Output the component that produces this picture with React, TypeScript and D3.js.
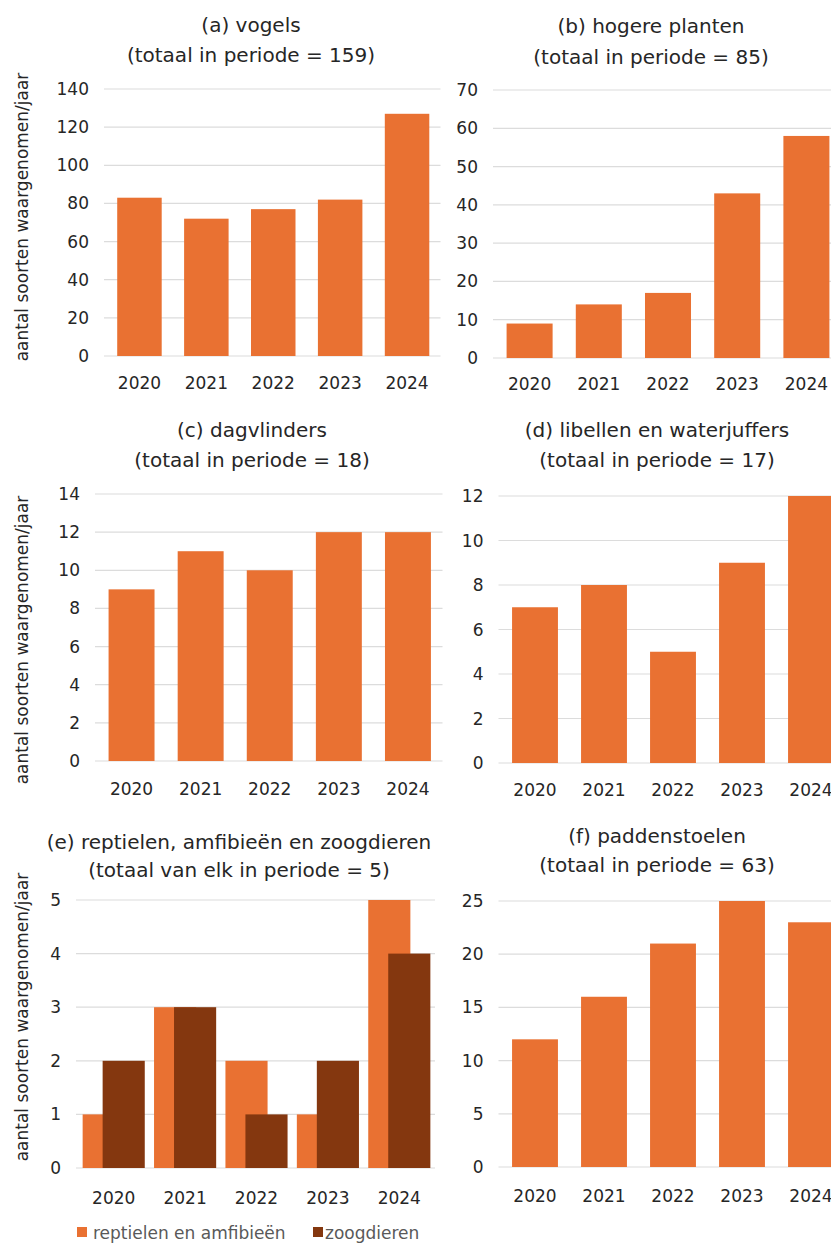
import React from "react";
import * as d3 from "d3";

const years = ["2020", "2021", "2022", "2023", "2024"];
const vogels = [83, 72, 77, 82, 127];
const hogerePlanten = [9, 14, 17, 43, 58];
const dagvlinders = [9, 11, 10, 12, 12];
const libellen = [7, 8, 5, 9, 12];
const reptielenAmfibieen = [1, 3, 2, 1, 5];
const zoogdieren = [2, 3, 1, 2, 4];
const paddenstoelen = [12, 16, 21, 25, 23];

const titleA = ["(a) vogels", "(totaal in periode = 159)"];
const titleB = ["(b) hogere planten", "(totaal in periode = 85)"];
const titleC = ["(c) dagvlinders", "(totaal in periode = 18)"];
const titleD = ["(d) libellen en waterjuffers", "(totaal in periode = 17)"];
const titleE = ["(e) reptielen, amfibieën en zoogdieren", "(totaal van elk in periode = 5)"];
const titleF = ["(f) paddenstoelen", "(totaal in periode = 63)"];
const yAxisTitle = "aantal soorten waargenomen/jaar";
const legendLabels = ["reptielen en amfibieën", "zoogdieren"];

const ORANGE = "#E97132";
const BROWN = "#84370F";
const GRID = "#DCDCDC";
const TEXT = "#262626";
const FONT = "'DejaVu Sans', Verdana, sans-serif";

type PanelProps = {
  left: number;
  right: number;
  top: number;
  bottom: number;
  max: number;
  step: number;
  series: number[][];
  colors: string[];
  title: string[];
  titleX: number;
  titleY: number[];
  yearY: number;
  yTitle?: { x: number; y: number };
};

function Panel(p: PanelProps) {
  const x = d3.scaleBand<string>().domain(years).range([p.left, p.right]).padding(0);
  const y = d3.scaleLinear().domain([0, p.max]).range([p.bottom, p.top]);
  const ticks = d3.range(0, p.max + p.step / 2, p.step);
  const bw = x.bandwidth();
  const nS = p.series.length;
  const barW = nS === 1 ? bw * 0.665 : bw * 0.59;
  const offset = nS === 1 ? 0 : bw * 0.28;
  return (
    <g>
      {ticks.map((t) => (
        <g key={t}>
          <line x1={p.left - 2} x2={p.right} y1={y(t)} y2={y(t)} stroke={GRID} strokeWidth={1.2} />
          <text x={p.left - 17} y={y(t)} textAnchor="end" dominantBaseline="central" fontSize={17} fill={TEXT}>
            {t}
          </text>
        </g>
      ))}
      {p.series.map((s, si) =>
        s.map((v, i) => {
          const cx = (x(years[i]) as number) + bw / 2 + (nS === 1 ? 0 : (si - (nS - 1) / 2) * offset);
          return (
            <rect
              key={si + "-" + i}
              x={cx - barW / 2}
              y={y(v)}
              width={barW}
              height={y(0) - y(v)}
              fill={p.colors[si]}
            />
          );
        })
      )}
      {years.map((yr) => (
        <text
          key={yr}
          x={(x(yr) as number) + bw / 2}
          y={p.yearY}
          textAnchor="middle"
          dominantBaseline="central"
          fontSize={17}
          fill={TEXT}
        >
          {yr}
        </text>
      ))}
      {p.title.map((t, i) => (
        <text key={i} x={p.titleX} y={p.titleY[i]} textAnchor="middle" dominantBaseline="central" fontSize={20} fill={TEXT}>
          {t}
        </text>
      ))}
      {p.yTitle && (
        <text
          transform={`translate(${p.yTitle.x},${p.yTitle.y}) rotate(-90)`}
          textAnchor="middle"
          dominantBaseline="central"
          fontSize={17}
          fill={TEXT}
        >
          {yAxisTitle}
        </text>
      )}
    </g>
  );
}

export default function App() {
  return (
    <svg
      width={831}
      height={1243}
      style={{ position: "absolute", left: 0, top: 0, background: "#fff", fontFamily: FONT }}
    >
      <rect width={831} height={1243} fill="#fff" />
      <Panel left={106} right={440.5} top={89} bottom={356} max={140} step={20} series={[vogels]} colors={[ORANGE]}
        title={titleA} titleX={251} titleY={[25, 55]} yearY={383} yTitle={{ x: 22, y: 217 }} />
      <Panel left={495} right={841} top={90} bottom={358} max={70} step={10} series={[hogerePlanten]} colors={[ORANGE]}
        title={titleB} titleX={651} titleY={[26, 57]} yearY={384} />
      <Panel left={97} right={442.5} top={494} bottom={761} max={14} step={2} series={[dagvlinders]} colors={[ORANGE]}
        title={titleC} titleX={252} titleY={[430, 460]} yearY={789} yTitle={{ x: 22, y: 640 }} />
      <Panel left={500.5} right={845.5} top={496} bottom={763} max={12} step={2} series={[libellen]} colors={[ORANGE]}
        title={titleD} titleX={657} titleY={[430, 460]} yearY={790} />
      <Panel left={78} right={435} top={900} bottom={1168} max={5} step={1} series={[reptielenAmfibieen, zoogdieren]}
        colors={[ORANGE, BROWN]} title={titleE} titleX={239} titleY={[842, 870]} yearY={1198} yTitle={{ x: 22, y: 1017 }} />
      <Panel left={500.5} right={845.5} top={901} bottom={1167} max={25} step={5} series={[paddenstoelen]} colors={[ORANGE]}
        title={titleF} titleX={657} titleY={[836, 865]} yearY={1196} />
      <g>
        <rect x={77} y={1227} width={10} height={10} fill={ORANGE} />
        <text x={93} y={1233} dominantBaseline="central" fontSize={17} fill="#595959">{legendLabels[0]}</text>
        <rect x={313} y={1227} width={10} height={10} fill={BROWN} />
        <text x={325} y={1233} dominantBaseline="central" fontSize={17} fill="#595959">{legendLabels[1]}</text>
      </g>
    </svg>
  );
}
